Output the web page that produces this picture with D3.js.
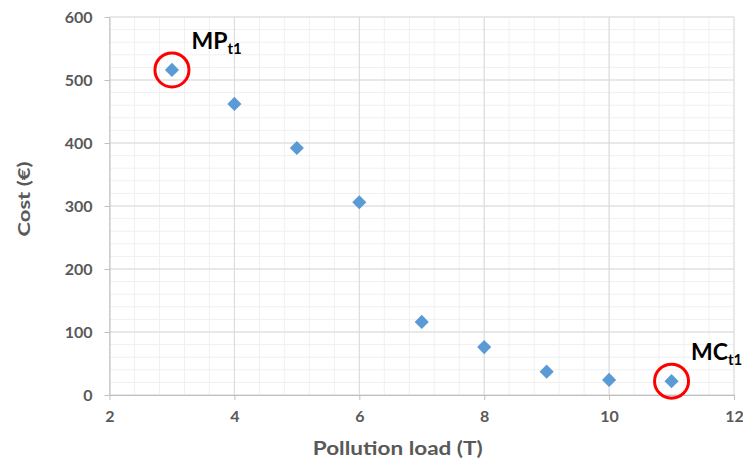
<!DOCTYPE html>
<html>
<head>
<meta charset="utf-8">
<script src="https://cdn.jsdelivr.net/npm/d3@7"></script>
<style>
  body { margin: 0; background: #fff; }
  text { font-family: Lato, "Open Sans", sans-serif; }
</style>
</head>
<body>
<svg id="chart" width="743" height="460"></svg>
<script>
// values
const loads = [3, 4, 5, 6, 7, 8, 9, 10, 11]
const costs = [516, 462, 392, 306, 116, 76, 37, 24, 22]
const xTicks = [2, 4, 6, 8, 10, 12]
const yTicks = [0, 100, 200, 300, 400, 500, 600]
// circled points and their labels
const marked = [
  {i: 0, main: "MP", sub: "t1"},
  {i: 8, main: "MC", sub: "t1"}
]

const margin = {top: 17, right: 9, bottom: 65, left: 109.5}
const width = 743 - margin.left - margin.right
const height = 460 - margin.top - margin.bottom

const svg = d3.select("#chart")
  .append("g")
  .attr("transform", `translate(${margin.left}, ${margin.top})`)

const x = d3.scaleLinear().domain([2, 12]).range([0, width])
const y = d3.scaleLinear().domain([0, 600]).range([height, 0])

// minor grid
svg.append("g")
  .selectAll("line")
  .data(d3.range(2, 12.01, 0.4))
  .join("line")
  .attr("x1", d => x(d)).attr("x2", d => x(d))
  .attr("y1", 0).attr("y2", height)
  .attr("stroke", "#f0f0f0")
svg.append("g")
  .selectAll("line")
  .data(d3.range(0, 601, 20))
  .join("line")
  .attr("y1", d => y(d)).attr("y2", d => y(d))
  .attr("x1", 0).attr("x2", width)
  .attr("stroke", "#f0f0f0")

// major grid
svg.append("g")
  .selectAll("line")
  .data(xTicks)
  .join("line")
  .attr("x1", d => x(d)).attr("x2", d => x(d))
  .attr("y1", 0).attr("y2", height)
  .attr("stroke", "#d9d9d9")
svg.append("g")
  .selectAll("line")
  .data(yTicks)
  .join("line")
  .attr("y1", d => y(d)).attr("y2", d => y(d))
  .attr("x1", 0).attr("x2", width)
  .attr("stroke", "#d9d9d9")

// axes
const xAxis = svg.append("g")
  .attr("transform", `translate(0, ${height})`)
  .call(d3.axisBottom(x).tickValues(xTicks).tickSize(5).tickPadding(11).tickSizeOuter(0))
const yAxis = svg.append("g")
  .call(d3.axisLeft(y).tickValues(yTicks).tickSize(5).tickPadding(12).tickSizeOuter(0))

for (const ax of [xAxis, yAxis]) {
  ax.select(".domain").attr("stroke", "#bfbfbf")
  ax.selectAll(".tick line").attr("stroke", "#bfbfbf")
  ax.selectAll(".tick text")
    .attr("fill", "#595959")
    .style("font-family", "Lato, sans-serif")
    .style("font-size", "16px")
    .style("font-weight", "bold")
}

// axis titles
svg.append("text")
  .attr("x", width / 2 - 24)
  .attr("y", height + 60)
  .attr("text-anchor", "middle")
  .attr("fill", "#595959")
  .style("font-size", "19px")
  .style("font-weight", "bold")
  .attr("textLength", 170)
  .attr("lengthAdjust", "spacingAndGlyphs")
  .text("Pollution load (T)")

svg.append("text")
  .attr("transform", `translate(${-80}, ${y(300) - 7}) rotate(-90)`)
  .attr("text-anchor", "middle")
  .attr("fill", "#595959")
  .style("font-size", "17px")
  .style("font-weight", "bold")
  .attr("textLength", 75)
  .attr("lengthAdjust", "spacingAndGlyphs")
  .text("Cost (€)")

// points
svg.append("g")
  .selectAll("path")
  .data(loads)
  .join("path")
  .attr("d", d3.symbol(d3.symbolSquare, 100))
  .attr("transform", (d, i) => `translate(${x(d)}, ${y(costs[i])}) rotate(45)`)
  .attr("fill", "#5b9bd5")

// red circles
svg.append("g")
  .selectAll("circle")
  .data(marked)
  .join("circle")
  .attr("cx", d => x(loads[d.i]))
  .attr("cy", d => y(costs[d.i]))
  .attr("r", 17)
  .attr("fill", "none")
  .attr("stroke", "#ff0000")
  .attr("stroke-width", 3)

// labels with subscript
const lab = svg.append("g")
  .selectAll("text")
  .data(marked)
  .join("text")
  .attr("x", d => x(loads[d.i]) + 19.5)
  .attr("y", d => y(costs[d.i]) - 21)
  .attr("fill", "#000")
  .style("font-weight", "bold")
lab.append("tspan")
  .style("font-size", "23px")
  .text(d => d.main)
lab.append("tspan")
  .attr("dy", 5)
  .style("font-size", "15px")
  .text(d => d.sub)
</script>
</body>
</html>
